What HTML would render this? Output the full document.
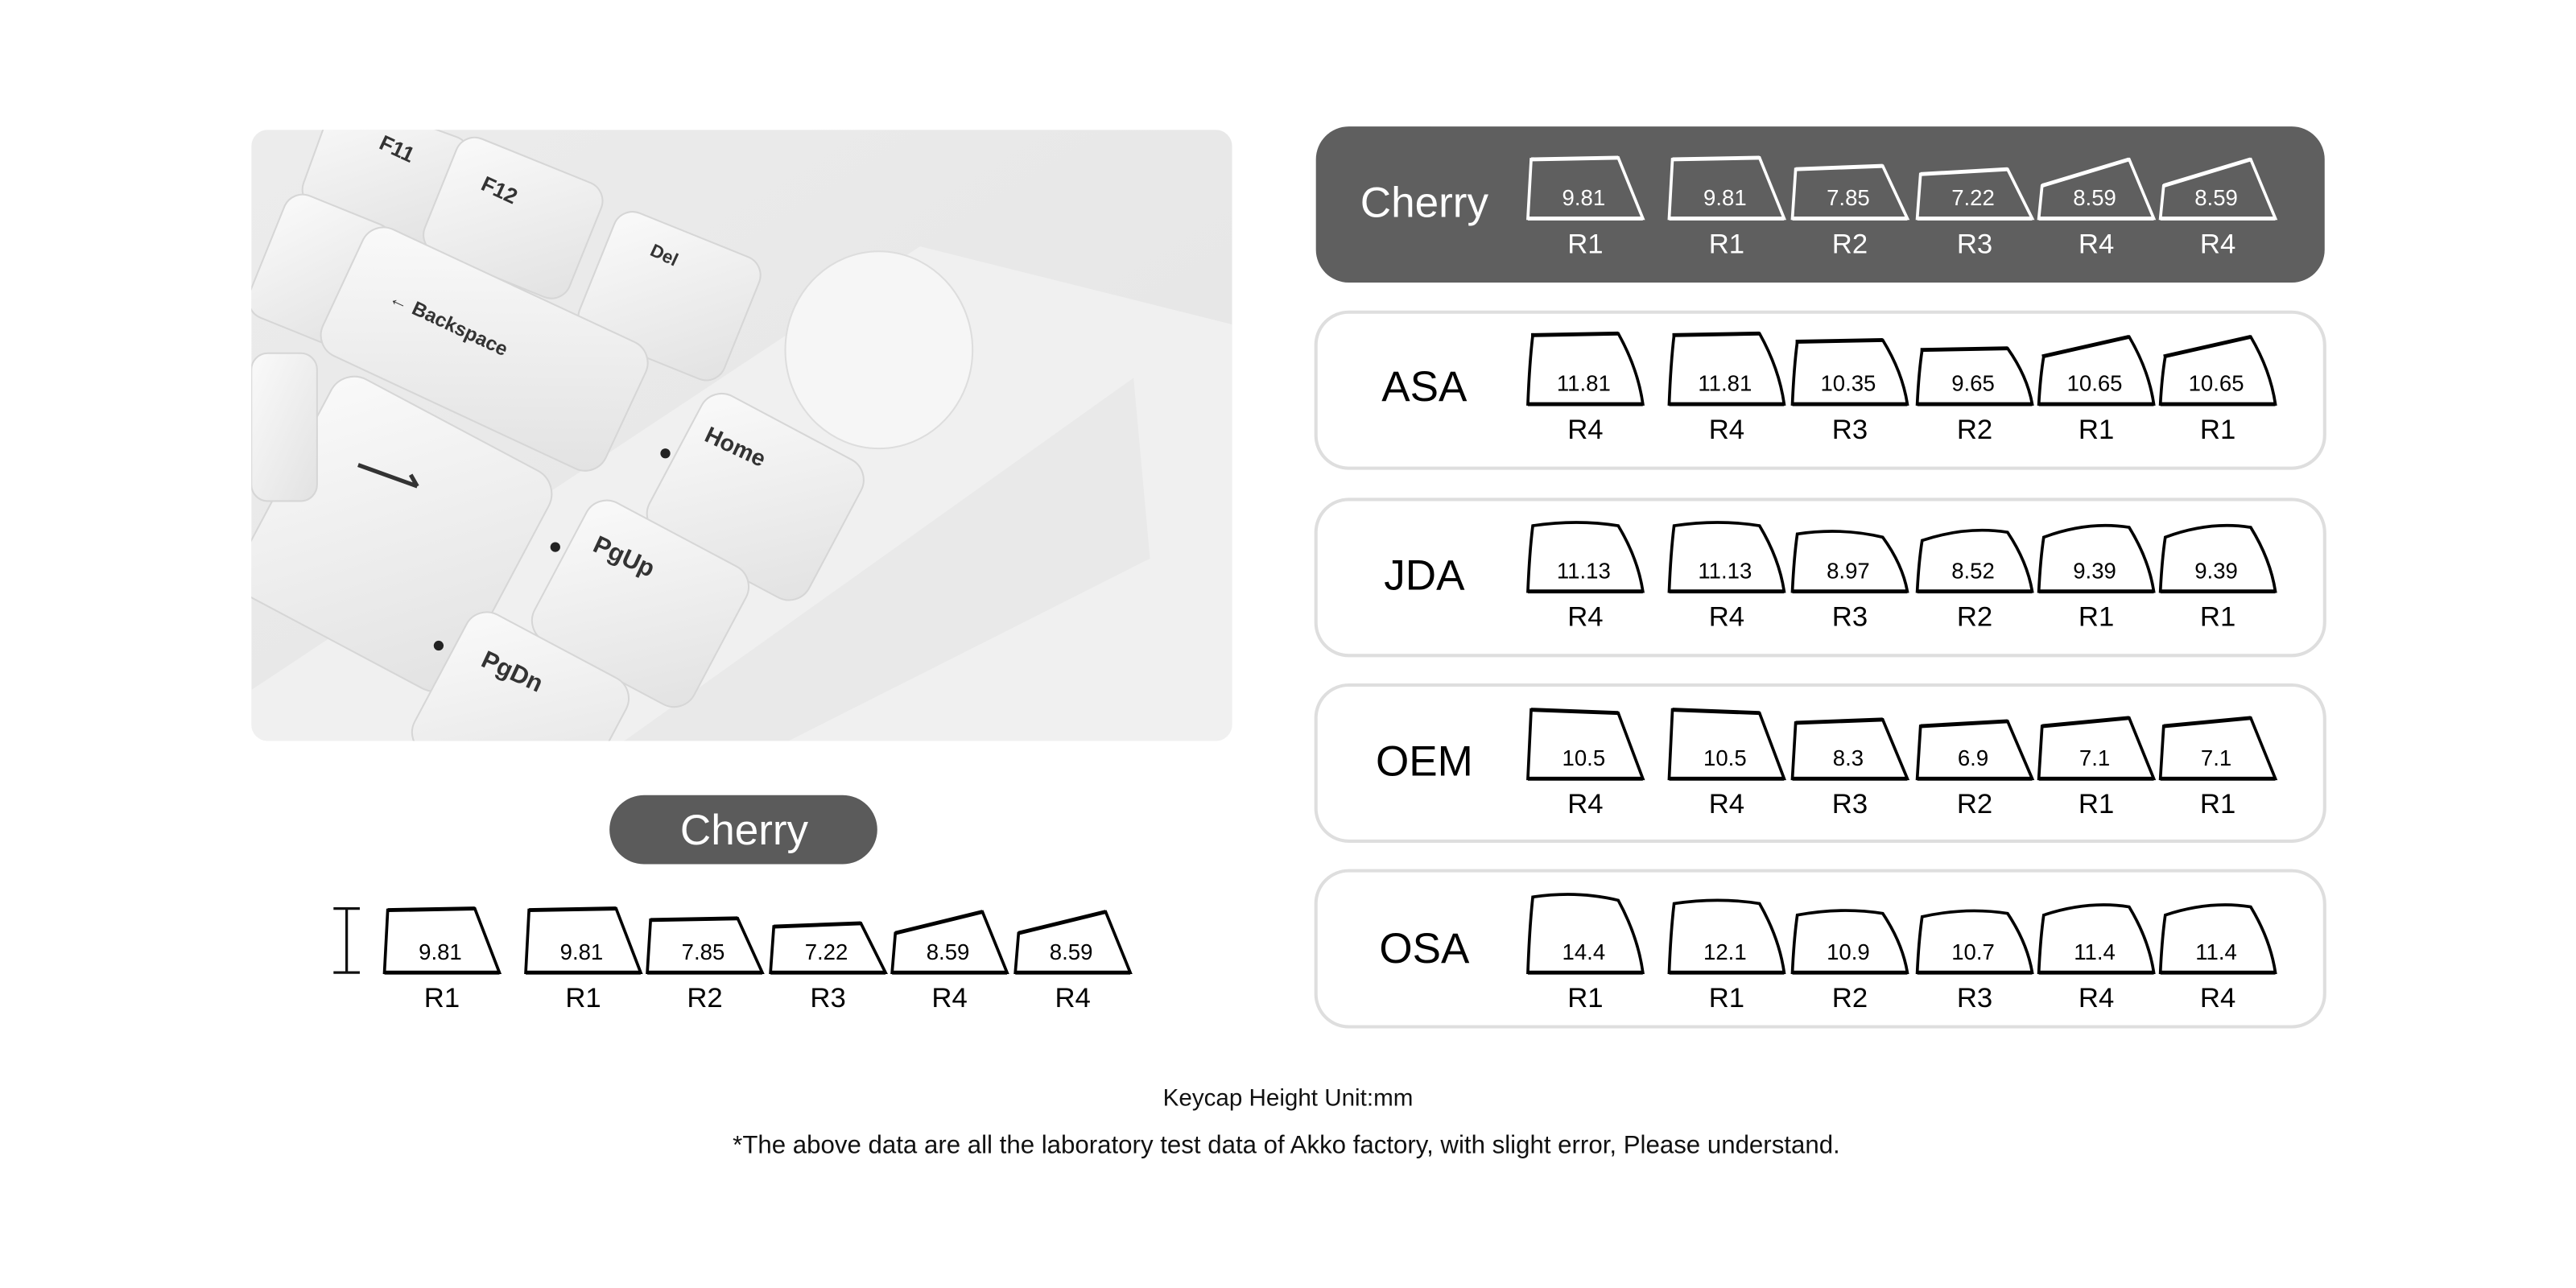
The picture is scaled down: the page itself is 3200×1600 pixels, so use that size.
<!DOCTYPE html>
<html><head><meta charset="utf-8"><style>
html,body{margin:0;padding:0;background:#fff;width:3200px;height:1600px;overflow:hidden}
svg{display:block}
text{font-family:"Liberation Sans",sans-serif}
</style></head><body>
<svg id="s" width="3200" height="1600" viewBox="0 0 1568 784" xmlns="http://www.w3.org/2000/svg">
<defs>
<linearGradient id="bg" x1="0" y1="0" x2="1" y2="1"><stop offset="0" stop-color="#ececec"/><stop offset="1" stop-color="#e4e4e4"/></linearGradient>
<linearGradient id="kc" x1="0" y1="0" x2="1" y2="1"><stop offset="0" stop-color="#fafafa"/><stop offset="1" stop-color="#e2e2e2"/></linearGradient>
<clipPath id="pc"><rect x="153" y="79" width="597" height="372" rx="10"/></clipPath>
</defs>
<g clip-path="url(#pc)">
<rect x="153" y="79" width="597" height="372" fill="url(#bg)"/>
<polygon points="153,420 560,150 760,200 760,451 153,451" fill="#f0f0f0"/>
<polygon points="380,451 690,230 700,340 480,451" fill="#e9e9e9"/>
<g fill="url(#kc)" stroke="#d6d6d6" stroke-width="1">
<rect x="190" y="70" width="90" height="70" rx="12" transform="rotate(20 235 105)"/>
<rect x="265" y="95" width="95" height="75" rx="12" transform="rotate(22 312 132)"/>
<rect x="360" y="140" width="95" height="80" rx="12" transform="rotate(22 407 180)"/>
<rect x="160" y="125" width="70" height="80" rx="12" transform="rotate(22 195 165)"/>
<rect x="200" y="170" width="190" height="85" rx="14" transform="rotate(25 295 212)"/>
<rect x="165" y="250" width="150" height="150" rx="16" transform="rotate(28 240 325)"/>
<rect x="405" y="255" width="110" height="95" rx="14" transform="rotate(28 460 302)"/>
<rect x="335" y="320" width="110" height="95" rx="14" transform="rotate(28 390 367)"/>
<rect x="262" y="388" width="110" height="95" rx="14" transform="rotate(28 317 435)"/>
<rect x="153" y="215" width="40" height="90" rx="10"/>
</g>
<ellipse cx="535" cy="213" rx="57" ry="60" fill="#f6f6f6" stroke="#ddd"/>
<g fill="#333" font-weight="bold" font-size="13">
<text x="230" y="90" transform="rotate(25 230 90)">F11</text>
<text x="292" y="115" transform="rotate(25 292 115)">F12</text>
<text x="395" y="155" transform="rotate(25 395 155)" font-size="11">Del</text>
<text x="236" y="184" transform="rotate(25 236 184)" font-size="12">← Backspace</text>
<text x="428" y="268" transform="rotate(25 428 268)" font-size="14">Home</text>
<text x="360" y="335" transform="rotate(25 360 335)" font-size="15">PgUp</text>
<text x="292" y="405" transform="rotate(25 292 405)" font-size="15">PgDn</text>
</g>
<path d="M218 283 L254 296 M250 289 L254 296" stroke="#333" stroke-width="2.5" fill="none"/>
<circle cx="405" cy="276" r="3" fill="#222"/><circle cx="338" cy="333" r="3" fill="#222"/><circle cx="267" cy="393" r="3" fill="#222"/>
</g>
<rect x="801" y="77" width="614" height="95" rx="20" fill="#5f5f5f"/>
<g fill="#fff" stroke="#dedede" stroke-width="2">
<rect x="801" y="190" width="614" height="95" rx="20"/>
<rect x="801" y="304" width="614" height="95" rx="20"/>
<rect x="801" y="417" width="614" height="95" rx="20"/>
<rect x="801" y="530" width="614" height="95" rx="20"/>
</g>
<text x="867" y="132" font-size="26" fill="#fff" text-anchor="middle">Cherry</text>
<text x="867" y="244" font-size="26" fill="#000" text-anchor="middle">ASA</text>
<text x="867" y="359" font-size="26" fill="#000" text-anchor="middle">JDA</text>
<text x="867" y="472" font-size="26" fill="#000" text-anchor="middle">OEM</text>
<text x="867" y="586" font-size="26" fill="#000" text-anchor="middle">OSA</text>
<rect x="371" y="484" width="163" height="42" rx="21" fill="#5b5b5b"/>
<text x="453" y="514" font-size="26" fill="#fff" text-anchor="middle" font-family="DejaVu Sans, sans-serif">Cherry</text>
<path d="M203 553 H219 M211 553 V592 M203 592 H219" stroke="#111" stroke-width="1.6" fill="none"/>
<text x="784" y="673" font-size="14.5" text-anchor="middle" fill="#111">Keycap Height Unit:mm</text>
<text x="783" y="702" font-size="15.3" text-anchor="middle" fill="#111">*The above data are all the laboratory test data of Akko factory, with slight error, Please understand.</text>
<g id="caps"></g>
</svg>
<script>
var g=document.getElementById('caps'),NS='http://www.w3.org/2000/svg';
function el(t,a,txt){var e=document.createElementNS(NS,t);for(var k in a)e.setAttribute(k,a[k]);if(txt)e.textContent=txt;g.appendChild(e);return e;}
function cap(L,b,hL,hR,curve,arch,col,num,lab){
 var W=70,tr=L+55;
 var d='M'+L+' '+b+' ';
 if(curve){d+='Q'+(L+1)+' '+(b-hL*0.6)+' '+(L+3)+' '+(b-hL)+' ';}else d+='L'+(L+2)+' '+(b-hL)+' ';
 if(arch){d+='Q'+(L+30)+' '+(b-Math.max(hL,hR)-4)+' '+tr+' '+(b-hR)+' ';}else d+='L'+tr+' '+(b-hR)+' ';
 if(curve){d+='Q'+(L+67)+' '+(b-hR*0.5)+' '+(L+W)+' '+b+' ';}else d+='L'+(L+W)+' '+b+' ';
 d+='Z';
 el('path',{d:d,fill:'none',stroke:col,'stroke-width':1.8,'stroke-linejoin':'miter'});
 el('line',{x1:L+2,y1:b-hL,x2:tr,y2:b-hR,stroke:col,'stroke-width':2.4,opacity:arch?0:1});
 el('line',{x1:L,y1:b,x2:L+W,y2:b,stroke:col,'stroke-width':2.4});
 el('text',{x:L+34,y:b-8,'font-size':13.5,fill:col,'text-anchor':'middle'},num);
 el('text',{x:L+35,y:b+21,'font-size':17,fill:col,'text-anchor':'middle'},lab);
}
var Ls=[930,1016,1091,1167,1241,1315];
function row(b,col,curve,arch,data){data.forEach(function(d,i){cap(Ls[i],b,d[0],d[1],curve,arch,col,d[2],d[3]);});}
row(133,'#fff',false,false,[[36,37,'9.81','R1'],[36,37,'9.81','R1'],[30,32,'7.85','R2'],[27,30,'7.22','R3'],[20,36,'8.59','R4'],[20,36,'8.59','R4']]);
row(246,'#000',true,false,[[42,43,'11.81','R4'],[42,43,'11.81','R4'],[38,39,'10.35','R3'],[33,34,'9.65','R2'],[29,41,'10.65','R1'],[29,41,'10.65','R1']]);
row(360,'#000',true,true,[[40,40,'11.13','R4'],[40,40,'11.13','R4'],[35,33,'8.97','R3'],[31,36,'8.52','R2'],[33,39,'9.39','R1'],[33,39,'9.39','R1']]);
row(474,'#000',false,false,[[42,40,'10.5','R4'],[42,40,'10.5','R4'],[34,36,'8.3','R3'],[32,35,'6.9','R2'],[32,37,'7.1','R1'],[32,37,'7.1','R1']]);
row(592,'#000',true,true,[[46,44,'14.4','R1'],[42,42,'12.1','R1'],[35,36,'10.9','R2'],[34,36,'10.7','R3'],[35,40,'11.4','R4'],[35,40,'11.4','R4']]);
var Lb=[234,320,394,469,543,618];
[[38,39,'9.81','R1'],[38,39,'9.81','R1'],[32,33,'7.85','R2'],[28,30,'7.22','R3'],[24,37,'8.59','R4'],[24,37,'8.59','R4']].forEach(function(d,i){cap(Lb[i],592,d[0],d[1],false,false,'#000',d[2],d[3]);});
</script>
</body></html>
